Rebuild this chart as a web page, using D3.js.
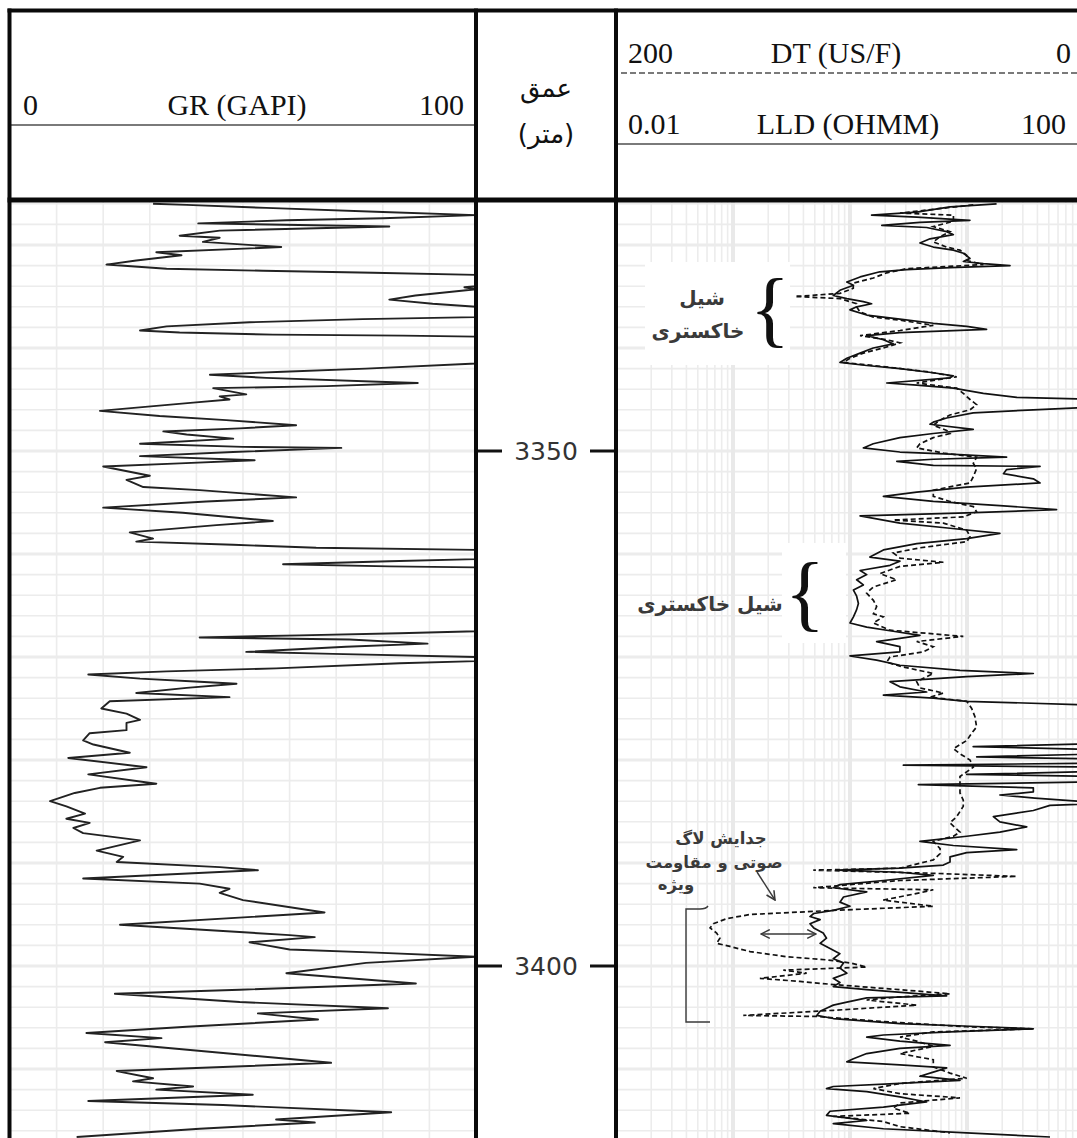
<!DOCTYPE html>
<html>
<head>
<meta charset="utf-8">
<script src="https://cdn.jsdelivr.net/npm/d3@7"></script>
<style>
  body { margin: 0; background: #fff; }
  svg { display: block; }
</style>
</head>
<body>
<svg id="chart" width="1077" height="1138"></svg>
<script>
// ---- Gamma ray log: depth (m) and GR (GAPI) ----
const grDepth = [3326.0,3326.1,3326.4,3326.8,3327.1,3327.4,3327.6,3327.9,3328.2,3328.6,3329.1,3329.3,3329.7,3330.2,3330.7,3331.0,3331.5,3331.9,3332.3,3332.5,3332.7,3332.9,3334.0,3334.1,3334.3,3334.9,3335.3,3335.7,3336.0,3337.0,3337.2,3337.5,3337.9,3338.3,3338.5,3338.7,3338.8,3338.9,3341.5,3342.0,3342.3,3342.6,3342.9,3343.3,3343.4,3343.7,3343.9,3344.5,3344.7,3345.0,3345.3,3346.1,3346.6,3347.0,3347.5,3347.8,3348.1,3348.4,3348.8,3349.3,3349.6,3349.7,3350.1,3350.5,3350.9,3351.2,3351.5,3352.4,3352.8,3353.5,3353.8,3354.5,3354.9,3355.5,3356.0,3356.8,3357.2,3357.9,3358.5,3358.8,3359.1,3359.4,3359.6,3360.5,3360.7,3361.0,3361.2,3361.3,3367.5,3367.7,3367.9,3368.1,3368.3,3368.7,3369.0,3369.5,3369.7,3370.0,3370.4,3370.6,3371.1,3371.4,3371.7,3372.1,3372.4,3372.6,3373.0,3373.5,3373.9,3374.3,3375.0,3375.5,3376.1,3376.4,3377.1,3377.4,3378.1,3378.5,3379.3,3379.8,3380.7,3381.4,3382.3,3382.7,3383.2,3384.0,3384.5,3385.2,3385.7,3386.1,3386.6,3387.1,3387.8,3388.8,3389.4,3389.9,3390.4,3390.7,3391.5,3392.0,3392.5,3392.9,3393.6,3394.8,3396.0,3397.0,3397.2,3397.7,3398.4,3398.7,3399.1,3399.7,3400.7,3401.7,3402.3,3402.7,3403.5,3404.1,3404.6,3405.2,3405.9,3406.5,3407.0,3407.4,3409.4,3410.2,3410.9,3411.2,3411.7,3412.0,3412.5,3413.1,3413.5,3414.2,3414.9,3415.2,3415.8,3416.6];
const grValue = [30.7,37.9,55,80,100,80,59.3,40.4,81.4,45,36.4,45,41.4,58.2,31.4,36.8,27.1,20.7,33.6,54.3,77.9,100,100,97.5,100,87,81.4,90.7,100,100,75.7,51.4,33.6,27.9,36.4,56.4,84.3,100,100,76.4,58.6,42.9,55,80.7,87.5,67.9,43.6,50.7,45,47.1,39.3,19.3,32.1,46.4,61.4,49.3,32.9,37.9,47.9,27.9,50,71.1,47.9,27.9,52.5,36.4,20,30,25,28.6,40.7,61.4,42.1,20,37.1,56.4,44.3,25.7,30.7,27.1,47.9,65.7,100,100,81.4,58.6,81.4,100,100,83.6,62.1,40.7,72.9,89.6,72.1,50.7,69.3,100,100,83.6,57.1,33.6,16.8,27.9,40.7,48.6,37.9,27.1,47.1,21.4,19.6,25,27.9,25,25,17.1,15.7,17.9,25.7,12.5,29.3,16.8,31.4,19.3,13.9,8.6,12.1,16.1,12.1,17.1,13.6,15.7,27.9,18.6,24.3,22.9,45,53.2,15.7,40.7,47.1,45,50,67.5,23.6,60,65.4,51.4,60,78.6,100,76.4,59.3,87.1,49.3,22.5,49.3,81.1,53.2,66.1,37.9,16.4,32.5,20.4,68.9,22.9,30.7,26.4,39.3,31.4,52.1,16.8,45.7,81.8,57.1,65.4,40.7,14.3];

// ---- Deep laterolog resistivity: depth (m) and LLD (ohm.m) ----
const lldDepth = [3326.0,3326.3,3326.8,3327.1,3327.3,3327.6,3327.8,3328.1,3328.3,3328.7,3329.0,3329.4,3329.8,3330.2,3330.5,3330.8,3331.3,3331.6,3331.8,3332.0,3332.2,3332.4,3332.6,3333.1,3333.6,3333.9,3334.4,3334.9,3335.2,3335.5,3335.7,3336.0,3336.3,3336.8,3337.2,3337.6,3337.9,3338.2,3338.5,3338.8,3339.2,3339.6,3340.0,3340.5,3341.0,3341.4,3341.7,3342.0,3342.4,3342.7,3342.9,3343.4,3343.6,3343.9,3344.4,3344.8,3345.0,3345.7,3346.0,3346.3,3346.8,3347.2,3347.4,3347.9,3348.3,3348.7,3349.3,3349.7,3350.1,3350.3,3350.6,3350.8,3351.0,3351.4,3351.5,3351.8,3352.2,3352.7,3353.1,3353.5,3354.0,3354.4,3354.9,3355.3,3355.7,3356.0,3356.3,3357.0,3357.5,3358.0,3358.5,3359.0,3359.6,3360.3,3360.7,3361.1,3361.6,3362.0,3362.5,3363.0,3363.5,3364.1,3364.8,3365.4,3366.1,3366.7,3367.1,3367.5,3367.9,3368.2,3368.5,3369.0,3369.5,3369.9,3370.3,3370.8,3371.3,3371.6,3371.9,3372.4,3372.9,3373.4,3373.7,3374.0,3374.3,3374.7,3378.4,3378.7,3379.0,3379.4,3379.7,3379.9,3380.3,3380.5,3380.7,3381.1,3381.4,3381.6,3382.1,3382.4,3382.7,3383.1,3383.4,3383.7,3384.2,3384.4,3384.9,3385.5,3386.0,3386.5,3387.0,3387.4,3387.9,3388.3,3388.7,3389.0,3389.4,3389.9,3390.2,3390.5,3390.7,3390.9,3391.2,3391.7,3392.1,3392.4,3392.8,3393.3,3393.8,3394.2,3394.6,3394.9,3395.2,3395.5,3395.9,3396.3,3396.8,3397.3,3397.8,3398.3,3398.8,3399.3,3399.7,3400.2,3400.7,3401.2,3401.6,3402.0,3402.3,3402.7,3402.9,3403.1,3403.5,3403.8,3404.1,3404.4,3404.8,3405.1,3405.6,3405.9,3406.1,3406.4,3406.7,3406.9,3407.3,3407.7,3408.0,3408.5,3409.0,3409.3,3409.6,3409.9,3410.3,3410.7,3411.1,3411.4,3411.7,3411.9,3412.2,3412.7,3413.2,3413.7,3414.1,3414.5,3415.0,3415.3,3415.8,3416.2,3416.6];
const lldValue = [17.9,7.16,3.72,1.53,3.72,10.6,3.96,1.87,4.52,6.7,7.64,4.83,3.96,5.15,7.64,9.31,10.6,9.31,13.8,23.3,7.16,3.05,1.8,1.22,0.94,1.07,0.82,0.72,0.94,1.3,1.53,1.14,1.0,1.39,2.67,5.15,9.94,14.7,2.67,1.39,1.93,2.34,1.58,1.22,0.94,0.82,1.39,2.67,5.15,7.64,7.16,2.06,3.72,7.64,13.8,26.6,150,150,36.9,11.3,6.7,5.15,4.83,11.3,5.15,2.67,1.58,1.3,2.67,7.16,21.8,5.15,2.51,5.15,42.1,21.8,20.5,36.9,42.1,9.94,3.72,1.93,5.15,19.1,58.3,9.94,1.22,2.67,7.16,19.1,9.94,3.72,1.93,1.48,2.67,2.2,1.22,1.39,1.14,1.3,1.07,1.14,1.18,1.14,1.07,1.0,1.39,2.34,3.96,2.67,1.69,2.67,2.67,1.0,1.69,2.67,8.71,36.9,9.94,2.2,2.67,4.52,1.93,5.15,9.94,150,150,11.3,150,150,12.1,150,150,2.86,150,150,9.94,150,150,3.84,36.9,36.9,19.1,38,150,51.2,36.9,16.8,19.1,32.4,19.1,9.94,3.96,7.64,26.6,9.94,7.16,7.16,6.28,2.67,0.77,2.67,5.15,1.93,0.82,0.72,1.39,0.88,0.82,1.0,0.72,0.49,0.455,0.555,0.455,0.49,0.59,0.63,0.555,0.675,0.82,0.72,0.88,0.82,0.94,0.72,0.82,0.72,1.39,3.96,6.7,1.39,0.94,0.72,0.63,0.555,0.52,0.72,2.67,13.8,36.9,7.16,1.93,1.39,2.67,7.16,2.67,1.39,1.07,0.94,2.67,6.7,5.15,3.96,8.71,2.67,0.72,0.63,1.39,2.67,4.52,1.93,0.675,0.63,1.39,0.72,1.93,9.94,51.2];

// ---- Sonic log: depth (m) and DT (us/ft) ----
const dtDepth = [3326.1,3326.9,3327.1,3327.7,3328.2,3328.7,3329.2,3329.7,3330.2,3330.5,3331.0,3331.5,3331.9,3332.3,3332.7,3333.2,3333.7,3334.2,3334.7,3335.0,3335.2,3335.7,3336.0,3336.5,3337.0,3337.3,3337.8,3338.3,3338.8,3339.2,3339.5,3340.0,3340.5,3341.0,3341.4,3341.8,3342.3,3342.8,3343.4,3343.9,3344.4,3345.0,3345.5,3346.0,3346.5,3347.0,3347.5,3348.0,3348.3,3348.7,3349.3,3349.7,3350.2,3350.6,3351.2,3351.7,3352.5,3353.1,3353.8,3354.4,3354.9,3355.4,3355.9,3356.4,3356.7,3357.0,3357.7,3358.3,3358.8,3359.4,3359.9,3360.4,3360.8,3361.2,3361.9,3362.5,3363.2,3363.8,3364.5,3365.1,3365.8,3366.1,3366.7,3367.4,3368.0,3368.5,3369.0,3369.5,3370.0,3370.5,3370.9,3371.6,3372.4,3373.0,3373.5,3373.9,3374.3,3375.0,3375.8,3376.8,3377.4,3378.1,3378.9,3379.4,3380.0,3380.7,3381.6,3382.6,3383.2,3383.9,3384.5,3385.5,3386.1,3387.0,3387.4,3387.9,3388.6,3389.1,3389.7,3390.5,3390.7,3391.0,3391.3,3391.7,3392.4,3392.6,3392.9,3393.6,3394.2,3394.6,3395.0,3395.4,3395.9,3396.3,3396.8,3397.3,3397.8,3398.1,3398.6,3399.1,3399.4,3399.7,3400.1,3400.4,3400.7,3401.2,3401.5,3401.8,3402.3,3402.7,3403.0,3403.3,3403.8,3404.3,3404.8,3404.9,3405.4,3405.9,3406.1,3406.4,3406.9,3407.3,3407.8,3408.5,3409.1,3409.8,3410.4,3410.9,3411.4,3411.9,3412.4,3412.8,3413.3,3413.8,3414.3,3414.6,3415.1,3415.6,3416.2];
const dtValue = [47.3,78.6,55.8,55.8,64.4,57.3,61.5,64.4,58.7,53.0,50.1,50.1,43.0,75.8,84.3,90.0,98.6,98.6,104.3,123.5,104.3,97.2,97.2,95.7,90.0,78.6,64.4,78.6,95.7,84.3,78.6,85.8,94.3,100.0,102.8,85.8,67.2,54.4,71.5,54.4,51.6,48.7,45.9,48.7,57.3,61.5,64.4,58.7,57.3,64.4,70.1,71.5,60.1,45.9,47.3,45.9,47.3,48.7,64.4,64.4,57.3,47.3,45.9,51.6,81.5,60.1,50.1,48.7,50.1,70.1,81.5,78.6,60.1,78.6,87.2,80.1,90.0,92.9,90.0,88.6,90.0,85.8,90.0,82.9,51.6,71.5,64.4,68.7,82.9,84.3,78.6,64.4,71.5,70.1,60.1,65.8,50.1,48.0,46.6,45.9,48.0,50.1,55.8,53.0,48.7,47.3,53.0,53.0,53.0,51.6,51.6,54.4,57.3,53.0,55.8,64.4,61.5,61.5,64.4,78.6,115.7,64.4,28.8,78.6,115.7,64.4,70.1,85.8,64.4,107.1,142.7,152.7,158.4,159.8,157.0,155.6,157.0,151.3,142.7,127.1,110.0,100.0,92.9,128.5,118.5,138.5,121.4,107.1,78.6,57.3,78.6,92.9,71.5,107.1,145.6,114.2,85.8,50.1,21.7,64.4,78.6,71.5,64.4,78.6,64.4,64.4,57.3,50.1,78.6,90.0,78.6,53.0,78.6,81.5,74.4,107.1,85.8,78.6,57.3];

// ---- Depth labels and header captions ----
const depthTicks = [3350, 3400];
const grHeader = ["0", "GR (GAPI)", "100"];
const dtHeader = ["200", "DT (US/F)", "0"];
const lldHeader = ["0.01", "LLD (OHMM)", "100"];
const depthHeader = ["عمق", "(متر)"];

// ---- Layout ----
const W = 1077, H = 1138;
const L = { left: 9.5, top: 10.5, headBottom: 200, grRight: 476, depthRight: 616, resRight: 1084 };

const svg = d3.select("#chart");

const y = d3.scaleLinear().domain([3350, 3400]).range([451, 966]);
const xGR = d3.scaleLinear().domain([0, 100]).range([L.left + 0.5, L.grRight]);
const xLLD = d3.scaleLog().domain([0.01, 100]).range([L.depthRight, L.resRight]);
const xDT = d3.scaleLinear().domain([200, 0]).range([L.depthRight, L.resRight]);

const depthMin = y.invert(L.headBottom), depthMax = y.invert(H);

// clip regions for the two curve tracks
const defs = svg.append("defs");
defs.append("clipPath").attr("id", "clipGR").append("rect")
  .attr("x", L.left).attr("y", L.headBottom).attr("width", L.grRight - L.left).attr("height", H - L.headBottom);
defs.append("clipPath").attr("id", "clipRes").append("rect")
  .attr("x", L.depthRight).attr("y", L.headBottom).attr("width", L.resRight - L.depthRight).attr("height", H - L.headBottom);

const arrowMarker = defs.append("marker").attr("id", "openArrow")
  .attr("viewBox", "0 0 10 10").attr("refX", 9).attr("refY", 5)
  .attr("markerWidth", 11).attr("markerHeight", 11)
  .attr("markerUnits", "userSpaceOnUse").attr("orient", "auto-start-reverse");
arrowMarker.append("path").attr("d", "M1,1 L9,5 L1,9").attr("fill", "none")
  .attr("stroke", "#3a3a3a").attr("stroke-width", 1.4);

// ---- Grids ----
const gridDepths = d3.range(Math.ceil(depthMin / 2) * 2, depthMax, 2);
const gridColor = "#ececec";

function hGrid(g, x0, x1) {
  g.selectAll("line.h").data(gridDepths).join("line").attr("class", "h")
    .attr("x1", x0).attr("x2", x1)
    .attr("y1", d => y(d)).attr("y2", d => y(d))
    .attr("stroke", gridColor)
    .attr("stroke-width", d => d % 10 === 0 ? 3 : 1.6);
}

const gGR = svg.append("g").attr("clip-path", "url(#clipGR)");
hGrid(gGR, L.left, L.grRight);
gGR.selectAll("line.v").data(d3.range(10, 100, 10)).join("line").attr("class", "v")
  .attr("x1", d => xGR(d)).attr("x2", d => xGR(d))
  .attr("y1", L.headBottom).attr("y2", H)
  .attr("stroke", gridColor).attr("stroke-width", 1.6);

const gRes = svg.append("g").attr("clip-path", "url(#clipRes)");
hGrid(gRes, L.depthRight, L.resRight);
const logLines = [];
for (let k = -2; k <= 1; k++) for (let m = 1; m <= 9; m++) logLines.push({ v: m * Math.pow(10, k), major: m === 1 });
gRes.selectAll("line.v").data(logLines).join("line").attr("class", "v")
  .attr("x1", d => xLLD(d.v)).attr("x2", d => xLLD(d.v))
  .attr("y1", L.headBottom).attr("y2", H)
  .attr("stroke", d => d.major ? "#e9e9e9" : gridColor)
  .attr("stroke-width", d => d.major ? 4 : 1.6);

// ---- Annotation backdrops (hide the grid behind the braces) ----
const backdrops = [
  { x: 645, y: 262, w: 145, h: 103 },
  { x: 782, y: 543, w: 64, h: 100 }
];
gRes.selectAll("rect.bd").data(backdrops).join("rect").attr("class", "bd")
  .attr("x", d => d.x).attr("y", d => d.y).attr("width", d => d.w).attr("height", d => d.h)
  .attr("fill", "#fff");

// ---- Curves ----
const grPts = grDepth.map((d, i) => ({ d, v: grValue[i] }));
const lldPts = lldDepth.map((d, i) => ({ d, v: lldValue[i] }));
const dtPts = dtDepth.map((d, i) => ({ d, v: dtValue[i] }));

gGR.append("path").datum(grPts)
  .attr("d", d3.line().x(p => xGR(p.v)).y(p => y(p.d)))
  .attr("fill", "none").attr("stroke", "#222").attr("stroke-width", 1.9)
  .attr("stroke-linejoin", "round");

gRes.append("path").datum(dtPts)
  .attr("d", d3.line().x(p => xDT(p.v)).y(p => y(p.d)))
  .attr("fill", "none").attr("stroke", "#111").attr("stroke-width", 1.7)
  .attr("stroke-dasharray", "5,3");

gRes.append("path").datum(lldPts)
  .attr("d", d3.line().x(p => xLLD(p.v)).y(p => y(p.d)))
  .attr("fill", "none").attr("stroke", "#111").attr("stroke-width", 1.7)
  .attr("stroke-linejoin", "round");

// ---- Depth track ----
const gDepth = svg.append("g");
const tickG = gDepth.selectAll("g").data(depthTicks).join("g")
  .attr("transform", d => `translate(0,${y(d)})`);
tickG.append("line").attr("x1", L.grRight).attr("x2", 502).attr("stroke", "#111").attr("stroke-width", 3);
tickG.append("line").attr("x1", 590).attr("x2", L.depthRight).attr("stroke", "#111").attr("stroke-width", 3);
tickG.append("text").text(d => d)
  .attr("x", 546).attr("dy", "0.36em")
  .attr("text-anchor", "middle")
  .attr("font-family", "DejaVu Sans, sans-serif").attr("font-size", 25)
  .attr("fill", "#333");

// ---- Headers ----
const serif = "Liberation Serif, Times New Roman, serif";
function headerRow(labels, xs, baseY, size) {
  const g = svg.append("g").attr("font-family", serif).attr("font-size", size).attr("fill", "#111");
  g.append("text").attr("x", xs[0]).attr("y", baseY).text(labels[0]);
  g.append("text").attr("x", xs[1]).attr("y", baseY).attr("text-anchor", "middle").text(labels[1]);
  g.append("text").attr("x", xs[2]).attr("y", baseY).attr("text-anchor", "end").text(labels[2]);
}
headerRow(grHeader, [23, 237, 464], 115, 30);
svg.append("line").attr("x1", L.left).attr("x2", L.grRight).attr("y1", 125).attr("y2", 125)
  .attr("stroke", "#7a7a7a").attr("stroke-width", 2);

headerRow(dtHeader, [628, 836, 1071], 63, 30);
svg.append("line").attr("x1", L.depthRight + 5).attr("x2", W).attr("y1", 73).attr("y2", 73)
  .attr("stroke", "#7a7a7a").attr("stroke-width", 2).attr("stroke-dasharray", "6,3");

headerRow(lldHeader, [628, 848, 1066], 134, 30);
svg.append("line").attr("x1", L.depthRight).attr("x2", W).attr("y1", 144).attr("y2", 144)
  .attr("stroke", "#7a7a7a").attr("stroke-width", 2);

svg.append("g").attr("font-family", "DejaVu Sans, sans-serif").attr("font-size", 26).attr("fill", "#111")
  .attr("text-anchor", "middle")
  .selectAll("text").data(depthHeader).join("text")
  .attr("x", 546).attr("y", (d, i) => 97 + i * 46).text(d => d);

// ---- Annotations ----
const arabic = "DejaVu Sans, sans-serif";
const notes = [
  { t: "شیل", x: 702, y: 298, s: 20 },
  { t: "خاکستری", x: 698, y: 331, s: 20 },
  { t: "شیل خاکستری", x: 710, y: 604, s: 20 },
  { t: "جدایش لاگ", x: 721, y: 838, s: 16.5 },
  { t: "صوتی و مقاومت", x: 714, y: 862, s: 16.5 },
  { t: "ویژه", x: 676, y: 884, s: 16.5 }
];
svg.append("g").selectAll("text").data(notes).join("text")
  .attr("x", d => d.x).attr("y", d => d.y).attr("dy", "0.35em")
  .attr("text-anchor", "middle").attr("font-family", arabic)
  .attr("font-size", d => d.s).attr("fill", "#3a3a3a").attr("font-weight", "bold")
  .text(d => d.t);

const braces = [
  { x: 770, base: 337 },
  { x: 805, base: 621 }
];
svg.append("g").selectAll("text").data(braces).join("text")
  .attr("x", d => d.x).attr("y", d => d.base).attr("text-anchor", "middle")
  .attr("font-family", serif).attr("font-size", 84).attr("fill", "#111")
  .text("{");

// arrow pointing at the separation, the double arrow across it, and the bracket
const ann = svg.append("g").attr("fill", "none").attr("stroke", "#3a3a3a").attr("stroke-width", 1.4);
ann.append("line").attr("x1", 757).attr("y1", 872).attr("x2", 775).attr("y2", 900)
  .attr("marker-end", "url(#openArrow)");
ann.append("line").attr("x1", 761).attr("y1", 934).attr("x2", 816).attr("y2", 934)
  .attr("marker-start", "url(#openArrow)").attr("marker-end", "url(#openArrow)");
ann.append("path").attr("d", "M708,906 Q706,909 700,909 L686,909 L686,1022 L710,1022");

// ---- Frame ----
const frame = svg.append("g").attr("stroke", "#0a0a0a");
frame.append("line").attr("x1", L.left - 2).attr("x2", W).attr("y1", L.top).attr("y2", L.top).attr("stroke-width", 4);
frame.append("line").attr("x1", L.left - 2).attr("x2", W).attr("y1", L.headBottom).attr("y2", L.headBottom).attr("stroke-width", 5);
[L.left, L.grRight, L.depthRight].forEach(x =>
  frame.append("line").attr("x1", x).attr("x2", x).attr("y1", L.top - 2).attr("y2", H).attr("stroke-width", 4));
</script>
</body>
</html>
